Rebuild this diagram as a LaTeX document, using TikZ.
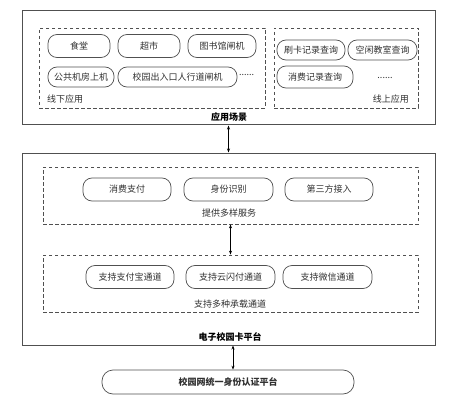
\documentclass[tikz,border=0pt]{standalone}
\usepackage{fontspec}
\setmainfont{Noto Sans CJK SC}
\usetikzlibrary{arrows.meta}
\definecolor{ln}{HTML}{505050}
\definecolor{tx}{HTML}{303030}
\tikzset{
  outerbox/.style={draw=ln,line width=1pt,inner sep=0pt},
  dashbox/.style={draw=ln,line width=0.8pt,dash pattern=on 3.5pt off 2.5pt,inner sep=0pt},
  pill/.style={draw=ln,line width=0.7pt,rounded corners=9pt,inner sep=0pt,text=tx,font=\fontsize{9}{10}\selectfont},
  lbl/.style={inner sep=0pt,text=tx,font=\fontsize{9}{10}\selectfont},
  title/.style={inner sep=0pt,font=\fontsize{9}{10}\selectfont\bfseries},
  arr/.style={line width=0.8pt,{Stealth[length=4pt,width=3pt]}-{Stealth[length=4pt,width=3pt]}}
}
\begin{document}
\begin{tikzpicture}[x=1pt,y=-1pt]
\useasboundingbox (0,0) rectangle (453,404);
% top box
\node[outerbox,minimum width=413pt,minimum height=114pt] (app) at (228.5,68) {};
\node[dashbox,minimum width=226pt,minimum height=80pt] (off) at (152,68) {};
\node[dashbox,minimum width=144pt,minimum height=80pt] (on) at (346,68) {};
\node[pill,minimum width=62pt,minimum height=23pt] (p1) at (79,46) {食堂};
\node[pill,minimum width=62pt,minimum height=23pt] (p2) at (149,46) {超市};
\node[pill,minimum width=68pt,minimum height=23pt] (p3) at (222,46) {图书馆闸机};
\node[pill,minimum width=66pt,minimum height=20pt] (p4) at (81,77) {公共机房上机};
\node[pill,minimum width=119pt,minimum height=20pt] (p5) at (177.5,77) {校园出入口人行道闸机};
\node[lbl,anchor=west] (d1) at (239,75) {......};
\node[lbl,anchor=west] (loff) at (47,99) {线下应用};
\node[pill,minimum width=68pt,minimum height=20pt] (q1) at (311,50) {刷卡记录查询};
\node[pill,minimum width=69pt,minimum height=20pt] (q2) at (382.5,50) {空闲教室查询};
\node[pill,minimum width=76pt,minimum height=22pt] (q3) at (315,77) {消费记录查询};
\node[lbl] (d2) at (385,78) {......};
\node[lbl,anchor=east] (lon) at (409,99) {线上应用};
\node[title] (tapp) at (229,117) {应用场景};
% platform box
\node[outerbox,minimum width=413pt,minimum height=192pt] (plat) at (228.5,249) {};
\node[dashbox,minimum width=375pt,minimum height=57pt] (svc) at (230.5,195.5) {};
\node[pill,minimum width=88pt,minimum height=23pt] (s1) at (127,189.5) {消费支付};
\node[pill,minimum width=89pt,minimum height=23pt] (s2) at (228.5,189.5) {身份识别};
\node[pill,minimum width=88pt,minimum height=23pt] (s3) at (329,189.5) {第三方接入};
\node[lbl] (lsvc) at (229,213) {提供多样服务};
\node[dashbox,minimum width=375pt,minimum height=57pt] (chn) at (230.5,283.5) {};
\node[pill,minimum width=88pt,minimum height=23pt] (c1) at (130,277) {支持支付宝通道};
\node[pill,minimum width=89pt,minimum height=23pt] (c2) at (230.5,277) {支持云闪付通道};
\node[pill,minimum width=89pt,minimum height=23pt] (c3) at (327.5,277) {支持微信通道};
\node[lbl] (lchn) at (230,304) {支持多种承载通道};
\node[title] (tplat) at (230,337) {电子校园卡平台};
% bottom
\node[pill,title,minimum width=252pt,minimum height=24pt,rounded corners=11pt] (auth) at (228,382) {校园网统一身份认证平台};
% arrows
\draw[arr] (app.south) -- (plat.north);
\draw[arr] (svc.south) -- (chn.north);
\draw[arr] ([xshift=4.5pt]plat.south) -- ([xshift=5pt]auth.north);
\end{tikzpicture}
\end{document}
